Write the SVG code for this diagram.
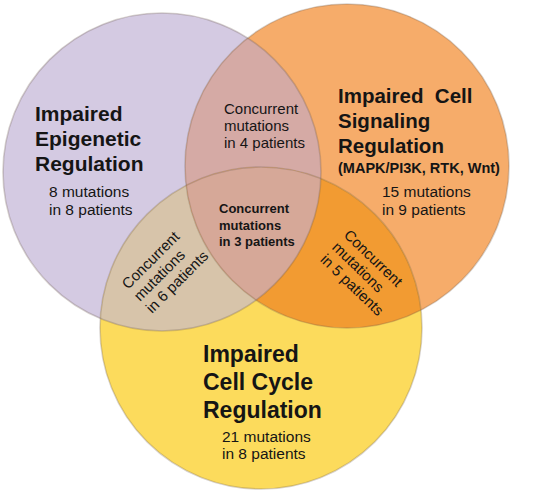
<svg xmlns="http://www.w3.org/2000/svg" width="537" height="496" viewBox="0 0 537 496">
  <style>
    .t { font-family: "Liberation Sans", Arial, sans-serif; fill: #151515; }
    .b { font-weight: bold; }
    .title { font-size: 21px; font-weight: bold; }
    .sub { font-size: 15.5px; }
    .conc { font-size: 15px; }
    .edge { fill: none; stroke: #6b5a4a; stroke-opacity: 0.28; stroke-width: 1.6; }
  </style>
  <defs>
    <clipPath id="cpP"><circle cx="162" cy="172" r="159"/></clipPath>
    <clipPath id="cpO"><circle cx="347" cy="166" r="162"/></clipPath>
    <clipPath id="cpY"><circle cx="261" cy="328" r="161"/></clipPath>
  </defs>
  <rect width="537" height="496" fill="#ffffff"/>

  <g id="epigenetic">
    <circle cx="162" cy="172" r="159" fill="#d4cae2"/>
  </g>
  <g id="signaling">
    <circle cx="347" cy="166" r="162" fill="#f6ac6a"/>
  </g>
  <g id="cellcycle">
    <circle cx="261" cy="328" r="161" fill="#fcdb5c"/>
  </g>

  <g id="overlap-epi-sig">
    <g clip-path="url(#cpP)"><circle cx="347" cy="166" r="162" fill="#d5aaa5"/></g>
  </g>
  <g id="overlap-epi-cycle">
    <g clip-path="url(#cpP)"><circle cx="261" cy="328" r="161" fill="#d7c4aa"/></g>
  </g>
  <g id="overlap-sig-cycle">
    <g clip-path="url(#cpO)"><circle cx="261" cy="328" r="161" fill="#f29b32"/></g>
  </g>
  <g id="overlap-all">
    <g clip-path="url(#cpP)"><g clip-path="url(#cpO)"><circle cx="261" cy="328" r="161" fill="#d6a898"/></g></g>
  </g>

  <g id="edges">
    <circle class="edge" cx="162" cy="172" r="159"/>
    <circle class="edge" cx="347" cy="166" r="162"/>
    <circle class="edge" cx="261" cy="328" r="161"/>
  </g>

  <g id="epigenetic-label">
    <text class="t title" x="35" y="121">Impaired</text>
    <text class="t title" x="35" y="146">Epigenetic</text>
    <text class="t title" x="35" y="171">Regulation</text>
    <text class="t sub" x="49" y="197">8 mutations</text>
    <text class="t sub" x="49" y="215">in 8 patients</text>
  </g>

  <g id="signaling-label">
    <text class="t title" x="338" y="103" style="font-size:20.5px" xml:space="preserve">Impaired  Cell</text>
    <text class="t title" x="338" y="128" style="font-size:20.5px">Signaling</text>
    <text class="t title" x="338" y="153" style="font-size:20.5px">Regulation</text>
    <text class="t b" x="338" y="173" style="font-size:14.5px">(MAPK/PI3K, RTK, Wnt)</text>
    <text class="t sub" x="382" y="197">15 mutations</text>
    <text class="t sub" x="382" y="214.5">in 9 patients</text>
  </g>

  <g id="cellcycle-label">
    <text class="t title" x="203" y="362" style="font-size:23px">Impaired</text>
    <text class="t title" x="203" y="390" style="font-size:23px">Cell Cycle</text>
    <text class="t title" x="203" y="418" style="font-size:23px">Regulation</text>
    <text class="t sub" x="222" y="442">21 mutations</text>
    <text class="t sub" x="222" y="459">in 8 patients</text>
  </g>

  <g id="epi-sig-label">
    <text class="t conc" x="224" y="114">Concurrent</text>
    <text class="t conc" x="224" y="131">mutations</text>
    <text class="t conc" x="224" y="148">in 4 patients</text>
  </g>

  <g id="all-label">
    <text class="t b" x="219" y="213" style="font-size:13px">Concurrent</text>
    <text class="t b" x="219" y="229.5" style="font-size:13px">mutations</text>
    <text class="t b" x="219" y="246" style="font-size:13px">in 3 patients</text>
  </g>

  <g id="epi-cycle-label" transform="translate(128,290) rotate(-45)">
    <text class="t conc" x="0" y="0">Concurrent</text>
    <text class="t conc" x="0" y="17">mutations</text>
    <text class="t conc" x="0" y="34">in 6 patients</text>
  </g>

  <g id="sig-cycle-label" transform="translate(343,236) rotate(44)">
    <text class="t conc" x="0" y="0">Concurrent</text>
    <text class="t conc" x="0" y="17">mutations</text>
    <text class="t conc" x="0" y="34">in 5 patients</text>
  </g>
</svg>
